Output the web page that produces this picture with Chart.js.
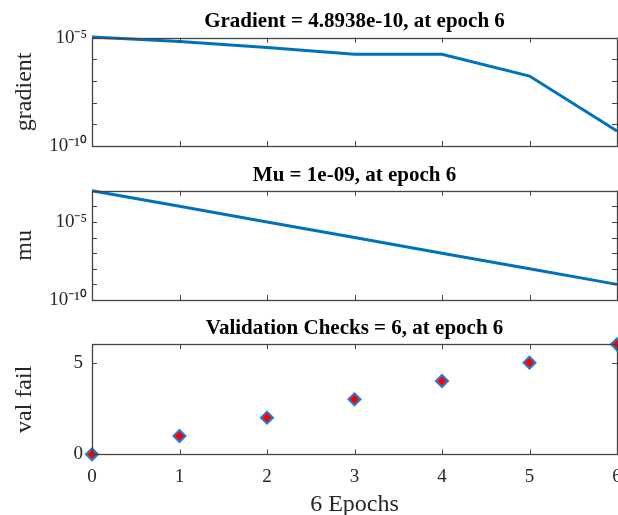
<!DOCTYPE html>
<html>
  <head>
    <title>Training state</title>
    <script src="https://cdn.jsdelivr.net/npm/chart.js@4/dist/chart.umd.min.js"></script>
  </head>

  <style>
body {
  margin: 0;
  background: #fff;
  overflow: hidden;
  width: 618px;
  height: 515px;
}

.panel {
  position: absolute;
  left: 0;
}
  </style>

  <body>
    <div class="panel" style="top:0px"><canvas id="gradChart" width="630" height="160"></canvas></div>
    <div class="panel" style="top:160px"><canvas id="muChart" width="630" height="150"></canvas></div>
    <div class="panel" style="top:310px"><canvas id="valChart" width="630" height="205"></canvas></div>

    <script>

// epochs along the x-axis
var epochs = [0, 1, 2, 3, 4, 5, 6];
// values
var gradient = [1.07e-5, 6.6e-6, 3.5e-6, 1.7e-6, 1.7e-6, 1.7e-7, 4.8938e-10];
var mu = [1e-3, 1e-4, 1e-5, 1e-6, 1e-7, 1e-8, 1e-9];
var valFail = [0, 1, 2, 3, 4, 5, 6];

// tick marks (every decade) and which ones get a label
var gradTicks = [1e-10, 1e-9, 1e-8, 1e-7, 1e-6, 1e-5];
var muTicks = [1e-10, 1e-9, 1e-8, 1e-7, 1e-6, 1e-5, 1e-4, 1e-3];
var logLabels = [1e-10, 1e-5];
var valTicks = [0, 5];

var serif = "'Liberation Serif', 'Times New Roman', serif";
var blue = '#0072BD';
var textCol = '#262626';

Chart.defaults.animation = false;
Chart.defaults.font.family = serif;
Chart.defaults.color = textCol;

function pts(ys) {
  return epochs.map(function (e, i) { return {x: e, y: ys[i]}; });
}

var sup = {'0': '\u2070', '1': '\u00b9', '2': '\u00b2', '3': '\u00b3', '4': '\u2074',
           '5': '\u2075', '6': '\u2076', '7': '\u2077', '8': '\u2078', '9': '\u2079', '-': '\u207b'};
function powLabel(v) {
  if (logLabels.indexOf(v) < 0) return '';
  var e = String(Math.round(Math.log10(v)));
  return '10' + e.split('').map(function (c) { return sup[c]; }).join('');
}

// label paddings would shrink the plot box, the sizes are fixed by hand
function noPad(s) {
  s.paddingTop = 0; s.paddingBottom = 0; s.paddingLeft = 0; s.paddingRight = 0;
}

// matlab style box with ticks pointing inwards
var matlabBox = {
  id: 'matlabBox',
  afterDatasetsDraw: function (chart) {
    var ctx = chart.ctx, a = chart.chartArea, xs = chart.scales.x, ys = chart.scales.y;
    var len = 5;
    ctx.save();
    ctx.strokeStyle = '#444';
    ctx.lineWidth = 1;
    ctx.beginPath();
    xs.ticks.forEach(function (t) {
      var px = Math.round(xs.getPixelForValue(t.value)) + 0.5;
      ctx.moveTo(px, a.bottom); ctx.lineTo(px, a.bottom - len);
      ctx.moveTo(px, a.top); ctx.lineTo(px, a.top + len);
    });
    ys.ticks.forEach(function (t) {
      var py = Math.round(ys.getPixelForValue(t.value)) + 0.5;
      ctx.moveTo(a.left, py); ctx.lineTo(a.left + len, py);
      ctx.moveTo(a.right, py); ctx.lineTo(a.right - len, py);
    });
    ctx.stroke();
    ctx.lineWidth = 1.3;
    ctx.strokeRect(Math.round(a.left) + 0.5, Math.round(a.top) + 0.5,
                   Math.round(a.right - a.left), Math.round(a.bottom - a.top));
    ctx.restore();
  }
};

function makeChart(id, cfg) {
  var xAxis = {
    type: 'linear', min: 0, max: 6,
    grid: {display: false, drawTicks: false},
    border: {display: false},
    afterBuildTicks: function (s) { s.ticks = epochs.map(function (v) { return {value: v}; }); },
    ticks: {display: cfg.xLabels, padding: 11, font: {size: 19}, color: textCol, autoSkip: false, maxRotation: 0},
    title: {display: cfg.xLabels, text: '6 Epochs', font: {size: 24}, color: textCol, padding: {top: 0, bottom: -4}},
    afterFit: function (s) { s.height = cfg.xHeight; noPad(s); }
  };
  var yAxis = {
    type: cfg.yType, min: cfg.yMin, max: cfg.yMax,
    grid: {display: false, drawTicks: false},
    border: {display: false},
    afterBuildTicks: function (s) { s.ticks = cfg.yTicks.map(function (v) { return {value: v}; }); },
    ticks: {padding: cfg.yPad, font: {size: 19}, color: textCol, autoSkip: false, callback: cfg.yFmt},
    title: {display: true, text: cfg.yTitle, font: {size: 24}, color: textCol, padding: {top: 10.6, bottom: 0}},
    afterFit: function (s) { s.width = 92; noPad(s); }
  };
  return new Chart(document.getElementById(id), {
    type: 'line',
    data: {datasets: [cfg.dataset]},
    options: {
      responsive: false,
      layout: {padding: {right: 13}, autoPadding: false},
      plugins: {
        legend: {display: false},
        tooltip: {enabled: false},
        title: {display: true, fullSize: false, text: cfg.title, color: '#000',
                font: {size: 21, weight: 'bold'}, padding: cfg.titlePad}
      },
      scales: {x: xAxis, y: yAxis}
    },
    plugins: [matlabBox]
  });
}

makeChart('gradChart', {
  title: 'Gradient = 4.8938e-10, at epoch 6',
  titlePad: {top: 9.4, bottom: 3.1},
  xLabels: false, xHeight: 14,
  yType: 'logarithmic', yMin: 1e-10, yMax: 1e-5, yTicks: gradTicks, yPad: 5,
  yFmt: function (v) { return powLabel(v); }, yTitle: 'gradient',
  dataset: {data: pts(gradient), borderColor: blue, borderWidth: 3, pointRadius: 0, fill: false, clip: false}
});

makeChart('muChart', {
  title: 'Mu = 1e-09, at epoch 6',
  titlePad: {top: 2.9, bottom: 2.6},
  xLabels: false, xHeight: 10,
  yType: 'logarithmic', yMin: 1e-10, yMax: 1e-3, yTicks: muTicks, yPad: 5,
  yFmt: function (v) { return powLabel(v); }, yTitle: 'mu',
  dataset: {data: pts(mu), borderColor: blue, borderWidth: 3, pointRadius: 0, fill: false, clip: false}
});

makeChart('valChart', {
  title: 'Validation Checks = 6, at epoch 6',
  titlePad: {top: 6.4, bottom: 2.7},
  xLabels: true, xHeight: 60.7,
  yType: 'linear', yMin: 0, yMax: 6, yTicks: valTicks, yPad: 9,
  yFmt: function (v) { return String(v); }, yTitle: 'val fail',
  dataset: {data: pts(valFail), showLine: false, pointStyle: 'rectRot', pointRadius: 6,
            pointBackgroundColor: '#ff0000', pointBorderColor: '#1f7fd6', pointBorderWidth: 2, clip: false}
});

    </script>
  </body>
</html>
